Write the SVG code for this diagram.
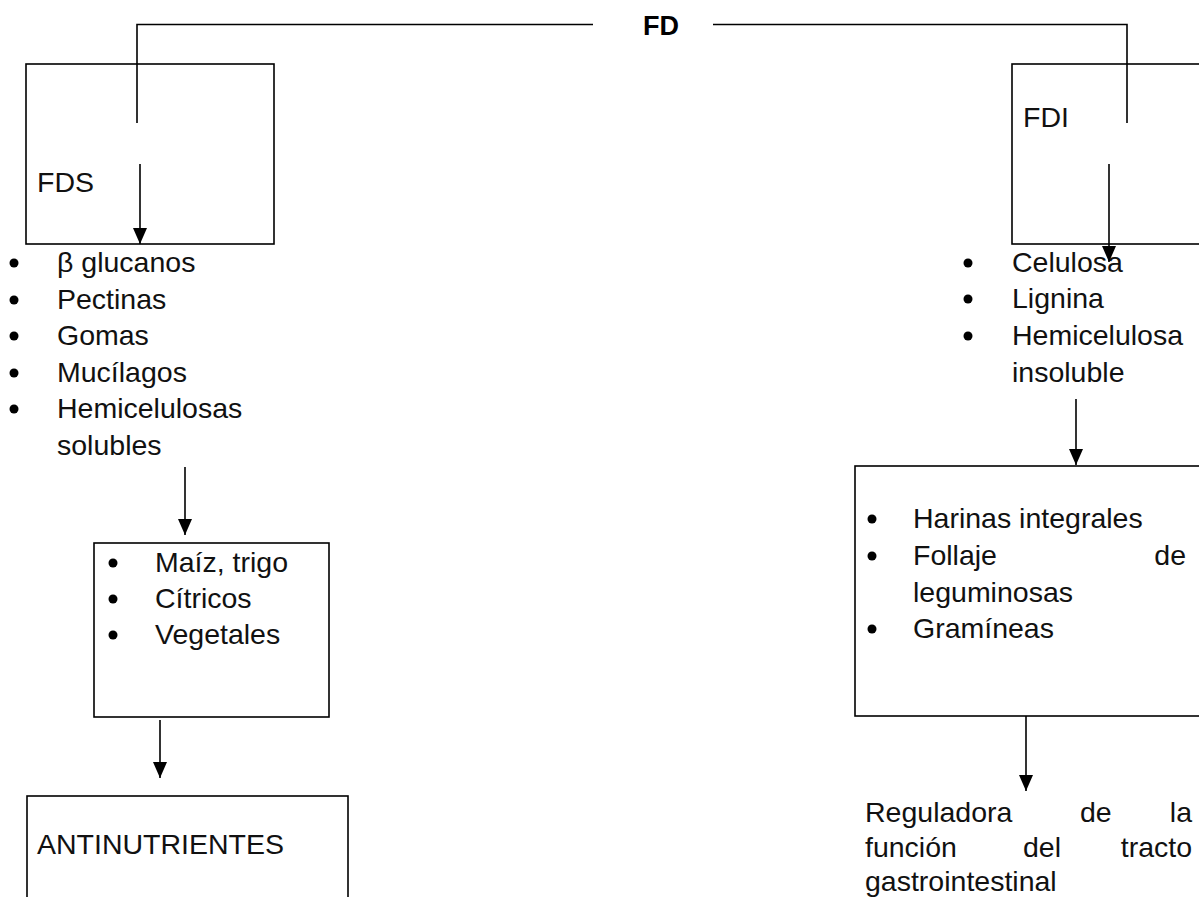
<svg xmlns="http://www.w3.org/2000/svg" width="1199" height="897" viewBox="0 0 1199 897">
<style>
.bx{fill:none;stroke:#000;stroke-width:1.6}
.ln{fill:none;stroke:#000;stroke-width:1.6}
.t{font-family:"Liberation Sans",Arial,sans-serif;font-size:28.5px;fill:#111}
.e{text-anchor:end}
.b{font-family:"Liberation Sans",Arial,sans-serif;font-size:27px;font-weight:bold;fill:#000}
.dot{fill:#000}
</style>
<defs>
<marker id="ah" viewBox="0 0 16 14" refX="16" refY="7" markerWidth="16" markerHeight="14" markerUnits="userSpaceOnUse" orient="auto">
<path d="M0,0 L16,7 L0,14 z" fill="#000"/>
</marker>
</defs>
<rect width="1199" height="897" fill="#fff"/>
<g id="fd"><text class="b" x="643" y="35">FD</text></g>
<g id="fds">
<rect class="bx" x="26" y="64" width="248" height="180"/>
<text class="t" x="37" y="192">FDS</text>
</g>
<g id="fdi">
<rect class="bx" x="1012" y="64" width="220" height="180"/>
<text class="t" x="1023" y="127">FDI</text>
</g>
<g id="soluble-list">
<circle class="dot" cx="14" cy="263" r="4.5"/>
<circle class="dot" cx="14" cy="300" r="4.5"/>
<circle class="dot" cx="14" cy="336" r="4.5"/>
<circle class="dot" cx="14" cy="373" r="4.5"/>
<circle class="dot" cx="14" cy="409" r="4.5"/>
<text class="t" x="57" y="272">β glucanos</text>
<text class="t" x="57" y="309">Pectinas</text>
<text class="t" x="57" y="345">Gomas</text>
<text class="t" x="57" y="382">Mucílagos</text>
<text class="t" x="57" y="418">Hemicelulosas</text>
<text class="t" x="57" y="455">solubles</text>
</g>
<g id="insoluble-list">
<circle class="dot" cx="968" cy="263" r="4.5"/>
<circle class="dot" cx="968" cy="299" r="4.5"/>
<circle class="dot" cx="968" cy="336" r="4.5"/>
<text class="t" x="1012" y="272">Celulosa</text>
<text class="t" x="1012" y="308">Lignina</text>
<text class="t" x="1012" y="345">Hemicelulosa</text>
<text class="t" x="1012" y="382">insoluble</text>
</g>
<g id="fuentes-solubles">
<rect class="bx" x="94" y="543" width="235" height="174"/>
<circle class="dot" cx="113" cy="563" r="4.5"/>
<circle class="dot" cx="113" cy="599" r="4.5"/>
<circle class="dot" cx="113" cy="635" r="4.5"/>
<text class="t" x="155" y="572">Maíz, trigo</text>
<text class="t" x="155" y="608">Cítricos</text>
<text class="t" x="155" y="644">Vegetales</text>
</g>
<g id="antinutrientes">
<rect class="bx" x="27" y="796" width="321" height="130"/>
<text class="t" x="37" y="854">ANTINUTRIENTES</text>
</g>
<g id="fuentes-insolubles">
<rect class="bx" x="855" y="466" width="360" height="250"/>
<circle class="dot" cx="872" cy="519" r="4.5"/>
<circle class="dot" cx="872" cy="556" r="4.5"/>
<circle class="dot" cx="872" cy="629" r="4.5"/>
<text class="t" x="913" y="528">Harinas integrales</text>
<text class="t" x="913" y="565">Follaje</text>
<text class="t e" x="1186" y="565">de</text>
<text class="t" x="913" y="602">leguminosas</text>
<text class="t" x="913" y="638">Gramíneas</text>
</g>
<g id="funcion">
<text class="t" x="865" y="822">Reguladora</text>
<text class="t" x="1080" y="822">de</text>
<text class="t e" x="1192" y="822">la</text>
<text class="t" x="865" y="857">función</text>
<text class="t" x="1023" y="857">del</text>
<text class="t e" x="1192" y="857">tracto</text>
<text class="t" x="865" y="891">gastrointestinal</text>
</g>
<g id="connectors">
<path class="ln" d="M137,123 V24.5 H593"/>
<path class="ln" d="M713,24.5 H1127 V123"/>
<line class="ln" x1="140" y1="164" x2="140" y2="244" marker-end="url(#ah)"/>
<line class="ln" x1="1109" y1="164" x2="1109" y2="262" marker-end="url(#ah)"/>
<line class="ln" x1="185" y1="467" x2="185" y2="535" marker-end="url(#ah)"/>
<line class="ln" x1="160" y1="720" x2="160" y2="778" marker-end="url(#ah)"/>
<line class="ln" x1="1076" y1="399" x2="1076" y2="465" marker-end="url(#ah)"/>
<line class="ln" x1="1026" y1="716" x2="1026" y2="791" marker-end="url(#ah)"/>
</g>
</svg>
